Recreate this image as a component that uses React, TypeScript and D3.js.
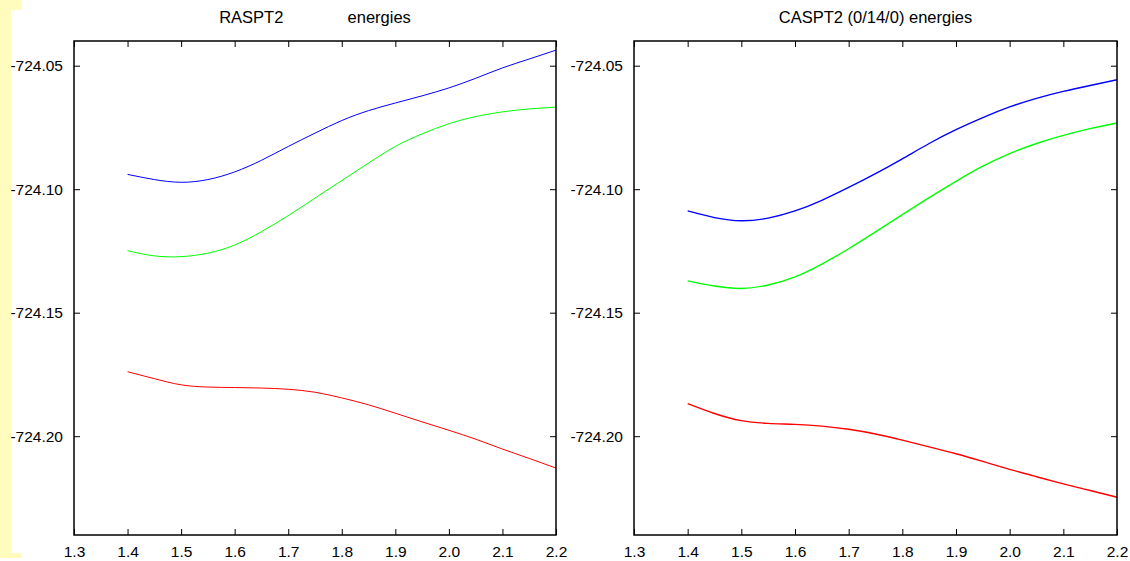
import * as d3 from "d3";
import React, { useEffect, useRef } from "react";

const xs = [1.4, 1.45, 1.5, 1.55, 1.6, 1.65, 1.7, 1.75, 1.8, 1.85, 1.9, 1.95, 2.0, 2.05, 2.1, 2.15, 2.2];

const xTicks = [1.3, 1.4, 1.5, 1.6, 1.7, 1.8, 1.9, 2.0, 2.1, 2.2];
const yTicks = [-724.05, -724.1, -724.15, -724.2];

// RASPT2 panel
const raspt2Blue = [-724.094, -724.0961, -724.0972, -724.0961, -724.093, -724.0883, -724.0827, -724.0773, -724.0722, -724.0682, -724.0651, -724.0622, -724.059, -724.0551, -724.0509, -724.0473, -724.0437];
const raspt2Green = [-724.1249, -724.127, -724.1273, -724.1259, -724.1226, -724.1172, -724.1107, -724.1036, -724.0965, -724.0894, -724.0827, -724.0776, -724.0735, -724.0706, -724.0687, -724.0675, -724.0668];
const raspt2Red = [-724.1739, -724.1767, -724.1792, -724.1801, -724.1803, -724.1805, -724.181, -724.1822, -724.1845, -724.1873, -724.1907, -724.1942, -724.1976, -724.2012, -724.2052, -724.209, -724.2129];

// CASPT2 panel
const caspt2Blue = [-724.1088, -724.1115, -724.1128, -724.1117, -724.1088, -724.1045, -724.0993, -724.0937, -724.0877, -724.0815, -724.0759, -724.071, -724.0667, -724.0632, -724.0604, -724.058, -724.0557];
const caspt2Green = [-724.1371, -724.1392, -724.1402, -724.1388, -724.1355, -724.1303, -724.1241, -724.1173, -724.1103, -724.1034, -724.0968, -724.0907, -724.0856, -724.0815, -724.0782, -724.0755, -724.0732];
const caspt2Red = [-724.1868, -724.1908, -724.1937, -724.1948, -724.1952, -724.1959, -724.1972, -724.1991, -724.2016, -724.2043, -724.2071, -724.2102, -724.2134, -724.2164, -724.2193, -724.222, -724.2247];

const panels = [
  { title: "RASPT2              energies", left: 74, right: 556, width: 1, series: [raspt2Blue, raspt2Green, raspt2Red] },
  { title: "CASPT2 (0/14/0) energies", left: 634, right: 1117, width: 1.4, series: [caspt2Blue, caspt2Green, caspt2Red] },
];
const colors = ["#0000ff", "#00ff00", "#ff0000"];

function App() {
  const ref = useRef<SVGSVGElement>(null);

  useEffect(() => {
    const svg = d3.select(ref.current);
    svg.selectAll("*").remove();
    const top = 41, bottom = 535;
    const font = "'Liberation Sans', Arial, sans-serif";

    // yellow strip at the left edge
    svg.append("rect").attr("x", 0).attr("y", 0).attr("width", 11).attr("height", 558).attr("fill", "#fffcbe");
    svg.append("rect").attr("x", 0).attr("y", 0).attr("width", 22).attr("height", 10).attr("fill", "#fffcbe");
    svg.append("rect").attr("x", 0).attr("y", 553).attr("width", 22).attr("height", 5).attr("fill", "#fffcbe");

    const y = d3.scaleLinear().domain([-724.24, -724.04]).range([bottom, top]);

    panels.forEach((p) => {
      const x = d3.scaleLinear().domain([1.3, 2.2]).range([p.left, p.right]);
      const g = svg.append("g");

      p.series.forEach((vals, i) => {
        const line = d3.line<number>()
          .x((_, j) => x(xs[j]))
          .y((d) => y(d))
          .curve(d3.curveNatural);
        g.append("path").attr("d", line(vals)).attr("fill", "none")
          .attr("stroke", colors[i]).attr("stroke-width", p.width);
      });

      const bottomAxis = g.append("g").attr("transform", `translate(0,${bottom})`)
        .call(d3.axisBottom(x).tickValues(xTicks).tickFormat((d) => (+d).toFixed(1)).tickSizeInner(-6).tickSizeOuter(0).tickPadding(11));
      const topAxis = g.append("g").attr("transform", `translate(0,${top})`)
        .call(d3.axisTop(x).tickValues(xTicks).tickFormat(() => "").tickSizeInner(-6).tickSizeOuter(0));
      const leftAxis = g.append("g").attr("transform", `translate(${p.left},0)`)
        .call(d3.axisLeft(y).tickValues(yTicks).tickFormat((d) => (+d).toFixed(2)).tickSizeInner(-6).tickSizeOuter(0).tickPadding(11));
      const rightAxis = g.append("g").attr("transform", `translate(${p.right},0)`)
        .call(d3.axisRight(y).tickValues(yTicks).tickFormat(() => "").tickSizeInner(-6).tickSizeOuter(0));

      [bottomAxis, topAxis, leftAxis, rightAxis].forEach((a) => {
        a.select(".domain").remove();
        a.selectAll("line").attr("stroke", "#000").attr("stroke-width", 1);
        a.selectAll("text").attr("fill", "#000").style("font-family", font).style("font-size", "15.5px");
      });

      g.append("rect").attr("x", p.left).attr("y", top)
        .attr("width", p.right - p.left).attr("height", bottom - top)
        .attr("fill", "none").attr("stroke", "#000").attr("stroke-width", 1.5);

      g.append("text").attr("x", (p.left + p.right) / 2).attr("y", 23)
        .attr("text-anchor", "middle").attr("xml:space", "preserve")
        .style("white-space", "pre").style("font-family", font).style("font-size", "16.5px")
        .text(p.title);
    });
  }, []);

  return (
    <svg ref={ref} width={1130} height={561} style={{ position: "absolute", left: 0, top: 0, background: "#fff" }} />
  );
}

export default App;
